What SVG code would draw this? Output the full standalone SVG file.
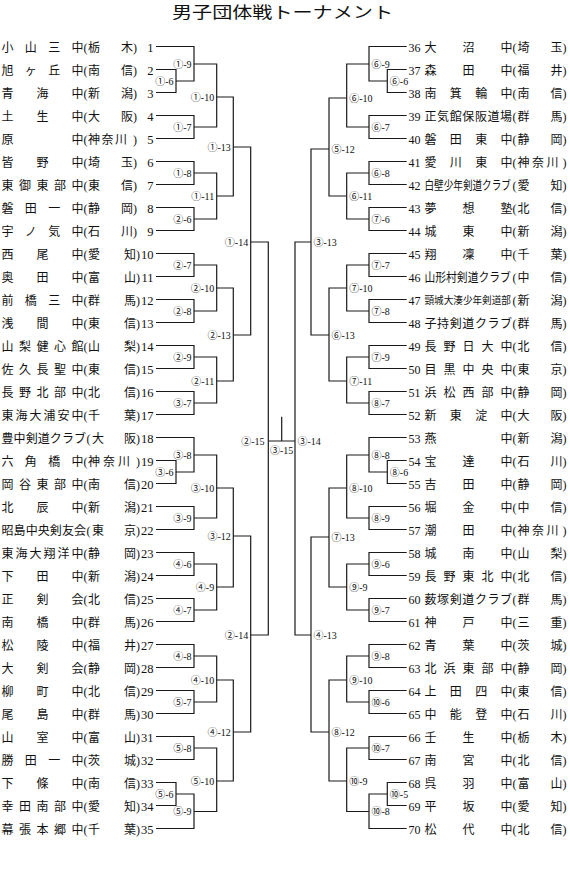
<svg xmlns="http://www.w3.org/2000/svg" width="570" height="884" viewBox="0 0 570 884">
<style>
.nm{font-family:"Noto Sans CJK JP",sans-serif;font-size:12px;fill:#111}
.pf{font-family:"Liberation Serif","Noto Sans CJK JP",serif;font-size:12px;fill:#111}
.no{font-family:"Liberation Serif",serif;font-size:12.5px;fill:#111;text-anchor:end}
.nr{font-family:"Liberation Serif",serif;font-size:12px;fill:#111}
.lb{font-family:"Liberation Serif","Noto Sans CJK JP",serif;font-size:10px;fill:#111}
.ln{fill:none;stroke:#1a1a1a;stroke-width:1.2}
.ttl{font-family:"Noto Sans CJK JP",sans-serif;font-size:16px;fill:#111}
</style>
<rect width="570" height="884" fill="#fff"/>
<text class="ttl" x="282.5" y="17.5" text-anchor="middle" textLength="221" lengthAdjust="spacingAndGlyphs">男子団体戦トーナメント</text>

<g id="left-teams">
<g id="t1"><text class="nm" x="1.5 24.8 48.2 71.5" y="51.5">小山三中</text><text class="pf" x="83.5 88 121 133" y="51.5">(栃木)</text><text class="no" x="153.5" y="51.5">1</text></g>
<g id="t2"><text class="nm" x="1.5 24.8 48.2 71.5" y="74.5">旭ヶ丘中</text><text class="pf" x="83.5 88 121 133" y="74.5">(南信)</text><text class="no" x="153.5" y="74.5">2</text></g>
<g id="t3"><text class="nm" x="1.5 36.5 71.5" y="97.5">青海中</text><text class="pf" x="83.5 88 121 133" y="97.5">(新潟)</text><text class="no" x="153.5" y="97.5">3</text></g>
<g id="t4"><text class="nm" x="1.5 36.5 71.5" y="120.5">土生中</text><text class="pf" x="83.5 88 121 133" y="120.5">(大阪)</text><text class="no" x="153.5" y="120.5">4</text></g>
<g id="t5"><text class="nm" x="1.5 71.5" y="143.5">原中</text><text class="pf" x="83.5 88 101.5 115 133" y="143.5">(神奈川)</text><text class="no" x="153.5" y="143.5">5</text></g>
<g id="t6"><text class="nm" x="1.5 36.5 71.5" y="166.5">皆野中</text><text class="pf" x="83.5 88 121 133" y="166.5">(埼玉)</text><text class="no" x="153.5" y="166.5">6</text></g>
<g id="t7"><text class="nm" x="1.5 19 36.5 54 71.5" y="189.5">東御東部中</text><text class="pf" x="83.5 88 121 133" y="189.5">(東信)</text><text class="no" x="153.5" y="189.5">7</text></g>
<g id="t8"><text class="nm" x="1.5 24.8 48.2 71.5" y="212.5">磐田一中</text><text class="pf" x="83.5 88 121 133" y="212.5">(静岡)</text><text class="no" x="153.5" y="212.5">8</text></g>
<g id="t9"><text class="nm" x="1.5 24.8 48.2 71.5" y="235.5">宇ノ気中</text><text class="pf" x="83.5 88 121 133" y="235.5">(石川)</text><text class="no" x="153.5" y="235.5">9</text></g>
<g id="t10"><text class="nm" x="1.5 36.5 71.5" y="258.5">西尾中</text><text class="pf" x="83.5 88 124 136" y="258.5">(愛知)</text><text class="no" x="153.5" y="258.5">10</text></g>
<g id="t11"><text class="nm" x="1.5 36.5 71.5" y="281.5">奥田中</text><text class="pf" x="83.5 88 124 136" y="281.5">(富山)</text><text class="no" x="153.5" y="281.5">11</text></g>
<g id="t12"><text class="nm" x="1.5 24.8 48.2 71.5" y="304.5">前橋三中</text><text class="pf" x="83.5 88 124 136" y="304.5">(群馬)</text><text class="no" x="153.5" y="304.5">12</text></g>
<g id="t13"><text class="nm" x="1.5 36.5 71.5" y="327.5">浅間中</text><text class="pf" x="83.5 88 124 136" y="327.5">(東信)</text><text class="no" x="153.5" y="327.5">13</text></g>
<g id="t14"><text class="nm" x="1.5 19 36.5 54 71.5" y="350.5">山梨健心館</text><text class="pf" x="83.5 88 124 136" y="350.5">(山梨)</text><text class="no" x="153.5" y="350.5">14</text></g>
<g id="t15"><text class="nm" x="1.5 19 36.5 54 71.5" y="373.5">佐久長聖中</text><text class="pf" x="83.5 88 124 136" y="373.5">(東信)</text><text class="no" x="153.5" y="373.5">15</text></g>
<g id="t16"><text class="nm" x="1.5 19 36.5 54 71.5" y="396.5">長野北部中</text><text class="pf" x="83.5 88 124 136" y="396.5">(北信)</text><text class="no" x="153.5" y="396.5">16</text></g>
<g id="t17"><text class="nm" x="1.5 15.5 29.5 43.5 57.5 71.5" y="419.5">東海大浦安中</text><text class="pf" x="83.5 88 124 136" y="419.5">(千葉)</text><text class="no" x="153.5" y="419.5">17</text></g>
<g id="t18"><text class="nm" x="1.5 13.6 25.7 37.8 49.8 61.9 74" y="442.5">豊中剣道クラブ</text><text class="pf" x="86.5 92 124 136" y="442.5">(大阪)</text><text class="no" x="153.5" y="442.5">18</text></g>
<g id="t19"><text class="nm" x="1.5 24.8 48.2 71.5" y="465.5">六角橋中</text><text class="pf" x="83.5 88 103 118 136" y="465.5">(神奈川)</text><text class="no" x="153.5" y="465.5">19</text></g>
<g id="t20"><text class="nm" x="1.5 19 36.5 54 71.5" y="488.5">岡谷東部中</text><text class="pf" x="83.5 88 124 136" y="488.5">(南信)</text><text class="no" x="153.5" y="488.5">20</text></g>
<g id="t21"><text class="nm" x="1.5 36.5 71.5" y="511.5">北辰中</text><text class="pf" x="83.5 88 124 136" y="511.5">(新潟)</text><text class="no" x="153.5" y="511.5">21</text></g>
<g id="t22"><text class="nm" x="1.5 13.6 25.7 37.8 49.8 61.9 74" y="534.5">昭島中央剣友会</text><text class="pf" x="86.5 92 124 136" y="534.5">(東京)</text><text class="no" x="153.5" y="534.5">22</text></g>
<g id="t23"><text class="nm" x="1.5 15.5 29.5 43.5 57.5 71.5" y="557.5">東海大翔洋中</text><text class="pf" x="83.5 88 124 136" y="557.5">(静岡)</text><text class="no" x="153.5" y="557.5">23</text></g>
<g id="t24"><text class="nm" x="1.5 36.5 71.5" y="580.5">下田中</text><text class="pf" x="83.5 88 124 136" y="580.5">(新潟)</text><text class="no" x="153.5" y="580.5">24</text></g>
<g id="t25"><text class="nm" x="1.5 36.5 71.5" y="603.5">正剣会</text><text class="pf" x="83.5 88 124 136" y="603.5">(北信)</text><text class="no" x="153.5" y="603.5">25</text></g>
<g id="t26"><text class="nm" x="1.5 36.5 71.5" y="626.5">南橋中</text><text class="pf" x="83.5 88 124 136" y="626.5">(群馬)</text><text class="no" x="153.5" y="626.5">26</text></g>
<g id="t27"><text class="nm" x="1.5 36.5 71.5" y="649.5">松陵中</text><text class="pf" x="83.5 88 124 136" y="649.5">(福井)</text><text class="no" x="153.5" y="649.5">27</text></g>
<g id="t28"><text class="nm" x="1.5 36.5 71.5" y="672.5">大剣会</text><text class="pf" x="83.5 88 124 136" y="672.5">(静岡)</text><text class="no" x="153.5" y="672.5">28</text></g>
<g id="t29"><text class="nm" x="1.5 36.5 71.5" y="695.5">柳町中</text><text class="pf" x="83.5 88 124 136" y="695.5">(北信)</text><text class="no" x="153.5" y="695.5">29</text></g>
<g id="t30"><text class="nm" x="1.5 36.5 71.5" y="718.5">尾島中</text><text class="pf" x="83.5 88 124 136" y="718.5">(群馬)</text><text class="no" x="153.5" y="718.5">30</text></g>
<g id="t31"><text class="nm" x="1.5 36.5 71.5" y="741.5">山室中</text><text class="pf" x="83.5 88 124 136" y="741.5">(富山)</text><text class="no" x="153.5" y="741.5">31</text></g>
<g id="t32"><text class="nm" x="1.5 24.8 48.2 71.5" y="764.5">勝田一中</text><text class="pf" x="83.5 88 124 136" y="764.5">(茨城)</text><text class="no" x="153.5" y="764.5">32</text></g>
<g id="t33"><text class="nm" x="1.5 36.5 71.5" y="787.5">下條中</text><text class="pf" x="83.5 88 124 136" y="787.5">(南信)</text><text class="no" x="153.5" y="787.5">33</text></g>
<g id="t34"><text class="nm" x="1.5 19 36.5 54 71.5" y="810.5">幸田南部中</text><text class="pf" x="83.5 88 124 136" y="810.5">(愛知)</text><text class="no" x="153.5" y="810.5">34</text></g>
<g id="t35"><text class="nm" x="1.5 19 36.5 54 71.5" y="833.5">幕張本郷中</text><text class="pf" x="83.5 88 124 136" y="833.5">(千葉)</text><text class="no" x="153.5" y="833.5">35</text></g>
</g>

<g id="right-teams">
<g id="t36"><text class="nr" x="408.5" y="51.5">36</text><text class="nm" x="424.5 462.5 500.5" y="51.5">大沼中</text><text class="pf" x="512.5 517.5 550.5 562.5" y="51.5">(埼玉)</text></g>
<g id="t37"><text class="nr" x="408.5" y="74.5">37</text><text class="nm" x="424.5 462.5 500.5" y="74.5">森田中</text><text class="pf" x="512.5 517.5 550.5 562.5" y="74.5">(福井)</text></g>
<g id="t38"><text class="nr" x="408.5" y="97.5">38</text><text class="nm" x="424.5 449.8 475.2 500.5" y="97.5">南箕輪中</text><text class="pf" x="512.5 517.5 550.5 562.5" y="97.5">(南信)</text></g>
<g id="t39"><text class="nr" x="408.5" y="120.5">39</text><text class="nm" x="424.5 437.1 449.7 462.3 474.9 487.5 500.1" y="120.5">正気館保阪道場</text><text class="pf" x="512.5 517.5 550.5 562.5" y="120.5">(群馬)</text></g>
<g id="t40"><text class="nr" x="408.5" y="143.5">40</text><text class="nm" x="424.5 449.8 475.2 500.5" y="143.5">磐田東中</text><text class="pf" x="512.5 517.5 550.5 562.5" y="143.5">(静岡)</text></g>
<g id="t41"><text class="nr" x="408.5" y="166.5">41</text><text class="nm" x="424.5 449.8 475.2 500.5" y="166.5">愛川東中</text><text class="pf" x="512.5 517.5 532 546.5 562.5" y="166.5">(神奈川)</text></g>
<g id="t42"><text class="nr" x="408.5" y="189.5">42</text><text class="nm" transform="translate(424.5 189.5) scale(0.8 1)">白壁少年剣道クラブ</text><text class="pf" x="512.5 517.5 550.5 562.5" y="189.5">(愛知)</text></g>
<g id="t43"><text class="nr" x="408.5" y="212.5">43</text><text class="nm" x="424.5 462.5 500.5" y="212.5">夢想塾</text><text class="pf" x="512.5 517.5 550.5 562.5" y="212.5">(北信)</text></g>
<g id="t44"><text class="nr" x="408.5" y="235.5">44</text><text class="nm" x="424.5 462.5 500.5" y="235.5">城東中</text><text class="pf" x="512.5 517.5 550.5 562.5" y="235.5">(新潟)</text></g>
<g id="t45"><text class="nr" x="408.5" y="258.5">45</text><text class="nm" x="424.5 462.5 500.5" y="258.5">翔凜中</text><text class="pf" x="512.5 517.5 550.5 562.5" y="258.5">(千葉)</text></g>
<g id="t46"><text class="nr" x="408.5" y="281.5">46</text><text class="nm" transform="translate(424.5 281.5) scale(0.9 1)">山形村剣道クラブ</text><text class="pf" x="512.5 517.5 550.5 562.5" y="281.5">(中信)</text></g>
<g id="t47"><text class="nr" x="408.5" y="304.5">47</text><text class="nm" style="font-size:10px" transform="translate(424.5 303.5) scale(0.96 1)">頸城大湊少年剣道部</text><text class="pf" x="512.5 517.5 550.5 562.5" y="304.5">(新潟)</text></g>
<g id="t48"><text class="nr" x="408.5" y="327.5">48</text><text class="nm" x="424.5 437.1 449.7 462.3 474.9 487.5 500.1" y="327.5">子持剣道クラブ</text><text class="pf" x="512.5 517.5 550.5 562.5" y="327.5">(群馬)</text></g>
<g id="t49"><text class="nr" x="408.5" y="350.5">49</text><text class="nm" x="424.5 443.5 462.5 481.5 500.5" y="350.5">長野日大中</text><text class="pf" x="512.5 517.5 550.5 562.5" y="350.5">(北信)</text></g>
<g id="t50"><text class="nr" x="408.5" y="373.5">50</text><text class="nm" x="424.5 443.5 462.5 481.5 500.5" y="373.5">目黒中央中</text><text class="pf" x="512.5 517.5 550.5 562.5" y="373.5">(東京)</text></g>
<g id="t51"><text class="nr" x="408.5" y="396.5">51</text><text class="nm" x="424.5 443.5 462.5 481.5 500.5" y="396.5">浜松西部中</text><text class="pf" x="512.5 517.5 550.5 562.5" y="396.5">(静岡)</text></g>
<g id="t52"><text class="nr" x="408.5" y="419.5">52</text><text class="nm" x="424.5 449.8 475.2 500.5" y="419.5">新東淀中</text><text class="pf" x="512.5 517.5 550.5 562.5" y="419.5">(大阪)</text></g>
<g id="t53"><text class="nr" x="408.5" y="442.5">53</text><text class="nm" x="424.5 500.5" y="442.5">燕中</text><text class="pf" x="512.5 517.5 550.5 562.5" y="442.5">(新潟)</text></g>
<g id="t54"><text class="nr" x="408.5" y="465.5">54</text><text class="nm" x="424.5 462.5 500.5" y="465.5">宝達中</text><text class="pf" x="512.5 517.5 550.5 562.5" y="465.5">(石川)</text></g>
<g id="t55"><text class="nr" x="408.5" y="488.5">55</text><text class="nm" x="424.5 462.5 500.5" y="488.5">吉田中</text><text class="pf" x="512.5 517.5 550.5 562.5" y="488.5">(静岡)</text></g>
<g id="t56"><text class="nr" x="408.5" y="511.5">56</text><text class="nm" x="424.5 462.5 500.5" y="511.5">堀金中</text><text class="pf" x="512.5 517.5 550.5 562.5" y="511.5">(中信)</text></g>
<g id="t57"><text class="nr" x="408.5" y="534.5">57</text><text class="nm" x="424.5 462.5 500.5" y="534.5">潮田中</text><text class="pf" x="512.5 517.5 532 546.5 562.5" y="534.5">(神奈川)</text></g>
<g id="t58"><text class="nr" x="408.5" y="557.5">58</text><text class="nm" x="424.5 462.5 500.5" y="557.5">城南中</text><text class="pf" x="512.5 517.5 550.5 562.5" y="557.5">(山梨)</text></g>
<g id="t59"><text class="nr" x="408.5" y="580.5">59</text><text class="nm" x="424.5 443.5 462.5 481.5 500.5" y="580.5">長野東北中</text><text class="pf" x="512.5 517.5 550.5 562.5" y="580.5">(北信)</text></g>
<g id="t60"><text class="nr" x="408.5" y="603.5">60</text><text class="nm" x="424.5 437.1 449.7 462.3 474.9 487.5 500.1" y="603.5">薮塚剣道クラブ</text><text class="pf" x="512.5 517.5 550.5 562.5" y="603.5">(群馬)</text></g>
<g id="t61"><text class="nr" x="408.5" y="626.5">61</text><text class="nm" x="424.5 462.5 500.5" y="626.5">神戸中</text><text class="pf" x="512.5 517.5 550.5 562.5" y="626.5">(三重)</text></g>
<g id="t62"><text class="nr" x="408.5" y="649.5">62</text><text class="nm" x="424.5 462.5 500.5" y="649.5">青葉中</text><text class="pf" x="512.5 517.5 550.5 562.5" y="649.5">(茨城)</text></g>
<g id="t63"><text class="nr" x="408.5" y="672.5">63</text><text class="nm" x="424.5 443.5 462.5 481.5 500.5" y="672.5">北浜東部中</text><text class="pf" x="512.5 517.5 550.5 562.5" y="672.5">(静岡)</text></g>
<g id="t64"><text class="nr" x="408.5" y="695.5">64</text><text class="nm" x="424.5 449.8 475.2 500.5" y="695.5">上田四中</text><text class="pf" x="512.5 517.5 550.5 562.5" y="695.5">(東信)</text></g>
<g id="t65"><text class="nr" x="408.5" y="718.5">65</text><text class="nm" x="424.5 449.8 475.2 500.5" y="718.5">中能登中</text><text class="pf" x="512.5 517.5 550.5 562.5" y="718.5">(石川)</text></g>
<g id="t66"><text class="nr" x="408.5" y="741.5">66</text><text class="nm" x="424.5 462.5 500.5" y="741.5">壬生中</text><text class="pf" x="512.5 517.5 550.5 562.5" y="741.5">(栃木)</text></g>
<g id="t67"><text class="nr" x="408.5" y="764.5">67</text><text class="nm" x="424.5 462.5 500.5" y="764.5">南宮中</text><text class="pf" x="512.5 517.5 550.5 562.5" y="764.5">(北信)</text></g>
<g id="t68"><text class="nr" x="408.5" y="787.5">68</text><text class="nm" x="424.5 462.5 500.5" y="787.5">呉羽中</text><text class="pf" x="512.5 517.5 550.5 562.5" y="787.5">(富山)</text></g>
<g id="t69"><text class="nr" x="408.5" y="810.5">69</text><text class="nm" x="424.5 462.5 500.5" y="810.5">平坂中</text><text class="pf" x="512.5 517.5 550.5 562.5" y="810.5">(愛知)</text></g>
<g id="t70"><text class="nr" x="408.5" y="833.5">70</text><text class="nm" x="424.5 462.5 500.5" y="833.5">松代中</text><text class="pf" x="512.5 517.5 550.5 562.5" y="833.5">(北信)</text></g>
</g>

<g id="connectors" class="ln">
<path d="M156 69.5H176V92.5H156"/>
<path d="M156 46.5H194V81H176"/>
<path d="M156 115.5H194V138.5H156"/>
<path d="M194 64H216.7V127H194"/>
<path d="M156 161.5H194V184.5H156"/>
<path d="M156 207.5H194V230.5H156"/>
<path d="M194 173H216.7V219H194"/>
<path d="M216.7 97H233.3V196H216.7"/>
<path d="M156 253.5H194V276.5H156"/>
<path d="M156 299.5H194V322.5H156"/>
<path d="M194 265H216.7V311H194"/>
<path d="M156 345.5H194V368.5H156"/>
<path d="M156 391.5H194V414.5H156"/>
<path d="M194 357H216.7V403H194"/>
<path d="M216.7 288H233.3V381H216.7"/>
<path d="M233.3 147H250.7V335H233.3"/>
<path d="M156 460.5H176V483.5H156"/>
<path d="M156 437.5H194V472H176"/>
<path d="M156 506.5H194V529.5H156"/>
<path d="M194 455H216.7V518H194"/>
<path d="M156 552.5H194V575.5H156"/>
<path d="M156 598.5H194V621.5H156"/>
<path d="M194 564H216.7V610H194"/>
<path d="M216.7 488H233.3V587H216.7"/>
<path d="M156 644.5H194V667.5H156"/>
<path d="M156 690.5H194V713.5H156"/>
<path d="M194 656H216.7V702H194"/>
<path d="M156 736.5H194V759.5H156"/>
<path d="M156 782.5H176V805.5H156"/>
<path d="M176 794H194V828.5H156"/>
<path d="M194 748H216.7V811.5H194"/>
<path d="M216.7 680H233.3V781H216.7"/>
<path d="M233.3 536H250.7V732H233.3"/>
<path d="M250.7 242H268.3V635H250.7"/>
<path d="M268.3 441H295M281.7 416.7V441"/>
<path d="M406.7 69.5H387.3V92.5H406.7"/>
<path d="M406.7 46.5H369V81H387.3"/>
<path d="M406.7 115.5H369V138.5H406.7"/>
<path d="M369 64H346.7V127H369"/>
<path d="M406.7 161.5H369V184.5H406.7"/>
<path d="M406.7 207.5H369V230.5H406.7"/>
<path d="M369 173H346.7V219H369"/>
<path d="M346.7 98H329V196H346.7"/>
<path d="M406.7 253.5H369V276.5H406.7"/>
<path d="M406.7 299.5H369V322.5H406.7"/>
<path d="M369 265H346.7V311H369"/>
<path d="M406.7 345.5H369V368.5H406.7"/>
<path d="M406.7 391.5H369V414.5H406.7"/>
<path d="M369 357H346.7V403H369"/>
<path d="M346.7 288H329V381H346.7"/>
<path d="M329 149H311V335H329"/>
<path d="M406.7 460.5H387.3V483.5H406.7"/>
<path d="M406.7 437.5H369V472H387.3"/>
<path d="M406.7 506.5H369V529.5H406.7"/>
<path d="M369 455H346.7V518H369"/>
<path d="M406.7 552.5H369V575.5H406.7"/>
<path d="M406.7 598.5H369V621.5H406.7"/>
<path d="M369 564H346.7V610H369"/>
<path d="M346.7 488H329V587H346.7"/>
<path d="M406.7 644.5H369V667.5H406.7"/>
<path d="M406.7 690.5H369V713.5H406.7"/>
<path d="M369 656H346.7V702H369"/>
<path d="M406.7 736.5H369V759.5H406.7"/>
<path d="M406.7 782.5H387.3V805.5H406.7"/>
<path d="M387.3 794H369V828.5H406.7"/>
<path d="M369 748H346.7V811.5H369"/>
<path d="M346.7 680H329V781H346.7"/>
<path d="M329 537H311V732H329"/>
<path d="M311 242H295V635H311"/>
</g>

<g id="labels-left" class="lb" text-anchor="end">
<text x="173.5" y="84.5">①-6</text>
<text x="191.5" y="67.5">①-9</text>
<text x="191.5" y="130.5">①-7</text>
<text x="214.2" y="100.5">①-10</text>
<text x="191.5" y="176.5">①-8</text>
<text x="191.5" y="222.5">②-6</text>
<text x="214.2" y="199.5">①-11</text>
<text x="230.8" y="150.5">①-13</text>
<text x="191.5" y="268.5">②-7</text>
<text x="191.5" y="314.5">②-8</text>
<text x="214.2" y="291.5">②-10</text>
<text x="191.5" y="360.5">②-9</text>
<text x="191.5" y="406.5">③-7</text>
<text x="214.2" y="384.5">②-11</text>
<text x="230.8" y="338.5">②-13</text>
<text x="248.2" y="245.5">①-14</text>
<text x="173.5" y="475.5">③-6</text>
<text x="191.5" y="458.5">③-8</text>
<text x="191.5" y="521.5">③-9</text>
<text x="214.2" y="491.5">③-10</text>
<text x="191.5" y="567.5">④-6</text>
<text x="191.5" y="613.5">④-7</text>
<text x="214.2" y="590.5">④-9</text>
<text x="230.8" y="539.5">③-12</text>
<text x="191.5" y="659.5">④-8</text>
<text x="191.5" y="705.5">⑤-7</text>
<text x="214.2" y="683.5">④-10</text>
<text x="191.5" y="751.5">⑤-8</text>
<text x="173.5" y="797.5">⑤-6</text>
<text x="191.5" y="815">⑤-9</text>
<text x="214.2" y="784.5">⑤-10</text>
<text x="230.8" y="735.5">④-12</text>
<text x="248.2" y="638.5">②-14</text>
<text x="264.5" y="444.5">②-15</text>
</g>
<g id="labels-center" class="lb">
<text x="281.7" y="454" text-anchor="middle">③-15</text>
<text x="297.5" y="444.5">③-14</text>
</g>
<g id="labels-right" class="lb">
<text x="389.8" y="84.5">⑥-6</text>
<text x="371.5" y="67.5">⑥-9</text>
<text x="371.5" y="130.5">⑥-7</text>
<text x="349.2" y="101.5">⑥-10</text>
<text x="371.5" y="176.5">⑥-8</text>
<text x="371.5" y="222.5">⑦-6</text>
<text x="349.2" y="199.5">⑥-11</text>
<text x="331.5" y="152.5">⑤-12</text>
<text x="371.5" y="268.5">⑦-7</text>
<text x="371.5" y="314.5">⑦-8</text>
<text x="349.2" y="291.5">⑦-10</text>
<text x="371.5" y="360.5">⑦-9</text>
<text x="371.5" y="406.5">⑧-7</text>
<text x="349.2" y="384.5">⑦-11</text>
<text x="331.5" y="338.5">⑥-13</text>
<text x="313.5" y="245.5">③-13</text>
<text x="389.8" y="475.5">⑧-6</text>
<text x="371.5" y="458.5">⑧-8</text>
<text x="371.5" y="521.5">⑧-9</text>
<text x="349.2" y="491.5">⑧-10</text>
<text x="371.5" y="567.5">⑨-6</text>
<text x="371.5" y="613.5">⑨-7</text>
<text x="349.2" y="590.5">⑨-9</text>
<text x="331.5" y="540.5">⑦-13</text>
<text x="371.5" y="659.5">⑨-8</text>
<text x="371.5" y="705.5">⑩-6</text>
<text x="349.2" y="683.5">⑨-10</text>
<text x="371.5" y="751.5">⑩-7</text>
<text x="389.8" y="797.5">⑩-5</text>
<text x="371.5" y="815">⑩-8</text>
<text x="349.2" y="784.5">⑩-9</text>
<text x="331.5" y="735.5">⑧-12</text>
<text x="313.5" y="638.5">④-13</text>
</g>
</svg>
